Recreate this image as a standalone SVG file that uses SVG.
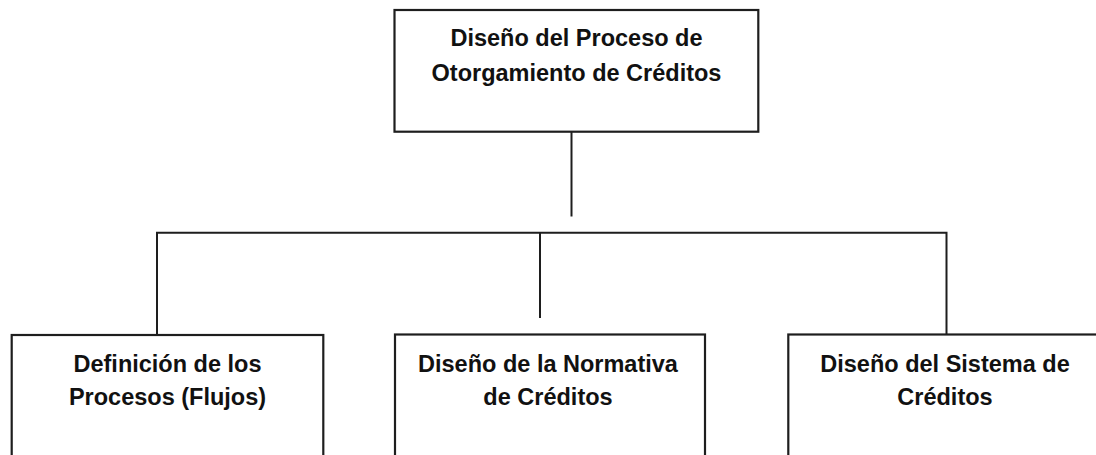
<svg xmlns="http://www.w3.org/2000/svg" width="1096" height="455" viewBox="0 0 1096 455">
<style>
.box{fill:#fff;stroke:#1e1e1e;stroke-width:2.2}
.line{fill:none;stroke:#1e1e1e;stroke-width:2}
.t{font-family:"Liberation Sans",Arial,sans-serif;font-weight:bold;font-size:23.5px;fill:#111;text-anchor:middle}
</style>
<rect width="1096" height="455" fill="#fff"/>
<g id="connectors">
<path class="line" d="M571.5 131.7V216.5"/>
<path class="line" d="M157 335V232.7H946.5V335"/>
<path class="line" d="M540 232.7V318"/>
</g>
<g id="root">
<rect class="box" x="394.5" y="10" width="363.8" height="121.7"/>
<text class="t" x="576.5" y="46">Diseño del Proceso de</text>
<text class="t" x="576.5" y="80.5">Otorgamiento de Créditos</text>
</g>
<g id="flujos">
<rect class="box" x="11.7" y="335" width="311.6" height="140"/>
<text class="t" x="167.5" y="372">Definición de los</text>
<text class="t" x="167.5" y="405">Procesos (Flujos)</text>
</g>
<g id="normativa">
<rect class="box" x="395" y="334.5" width="310" height="140"/>
<text class="t" x="548" y="372">Diseño de la Normativa</text>
<text class="t" x="548" y="405">de Créditos</text>
</g>
<g id="sistema">
<rect class="box" x="788.3" y="334.5" width="330" height="140"/>
<text class="t" x="945" y="372">Diseño del Sistema de</text>
<text class="t" x="945" y="405">Créditos</text>
</g>
</svg>
